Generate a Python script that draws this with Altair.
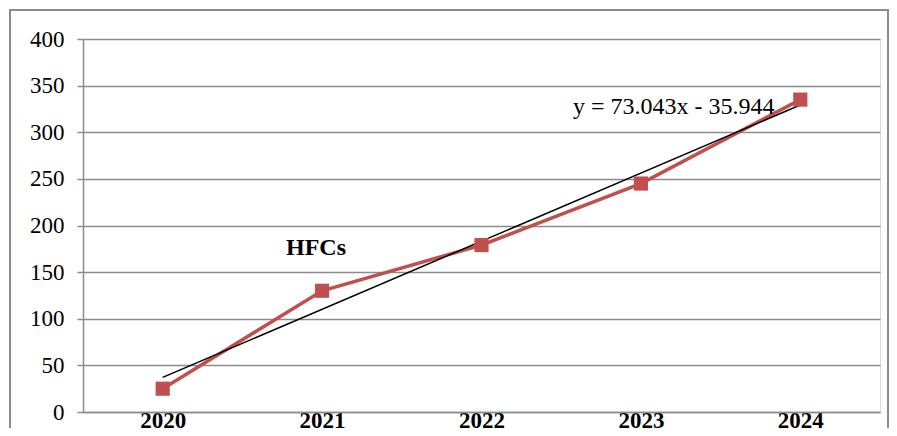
import altair as alt
import pandas as pd

years = ["2020", "2021", "2022", "2023", "2024"]
hfcs = [25, 130, 179, 245, 335]
slope = 73.043
intercept = -35.944
equation = "y = 73.043x - 35.944"
series_label = "HFCs"
y_ticks = [0, 50, 100, 150, 200, 250, 300, 350, 400]

df = pd.DataFrame({"year": years, "value": hfcs})
trend = pd.DataFrame({"year": [years[0], years[-1]],
                      "value": [slope * 1 + intercept, slope * len(years) + intercept]})

RED = "#C0504D"
GRAY = "#8c8c8c"
FONT = "Liberation Serif"

x_enc = alt.X("year:N", sort=years,
              scale=alt.Scale(type="point", padding=0.5),
              axis=alt.Axis(title=None, labelAngle=0, ticks=False, domain=True,
                            domainColor=GRAY, domainWidth=1.5,
                            labelFont=FONT, labelFontSize=23, labelFontWeight="bold",
                            labelColor="black", labelBaseline="alphabetic",
                            labelPadding=15, grid=False))
y_scale = alt.Scale(domain=[0, 400], nice=False, zero=True)
y_axis = alt.Axis(title=None, values=y_ticks, grid=True, gridColor=GRAY, gridWidth=1.5,
                  domain=True, domainColor=GRAY, domainWidth=1.5,
                  tickColor=GRAY, tickSize=6, tickWidth=1.5,
                  labelFont=FONT, labelFontSize=23, labelColor="black", labelPadding=13)

base_line = alt.Chart(df).mark_line(color=RED, strokeWidth=3.5).encode(
    x=x_enc, y=alt.Y("value:Q", scale=y_scale, axis=y_axis))
points = alt.Chart(df).mark_point(shape="square", filled=True, color=RED, size=200, opacity=1).encode(
    x=alt.X("year:N", sort=years), y=alt.Y("value:Q", scale=y_scale))
trend_line = alt.Chart(trend).mark_line(color="black", strokeWidth=1.5).encode(
    x=alt.X("year:N", sort=years), y=alt.Y("value:Q", scale=y_scale))

eq_text = alt.Chart(pd.DataFrame({"t": [equation]})).mark_text(
    font=FONT, fontSize=24, align="left", baseline="middle", color="black").encode(
    text="t:N", x=alt.value(490), y=alt.value(68))
name_text = alt.Chart(pd.DataFrame({"t": [series_label]})).mark_text(
    font=FONT, fontSize=24, fontWeight="bold", align="center", baseline="middle", color="black").encode(
    text="t:N", x=alt.value(233), y=alt.value(209))

frame = alt.Chart(pd.DataFrame({"a": [0]})).mark_rect(
    fill=None, filled=False, stroke=GRAY, strokeWidth=2, clip=False).encode(
    x=alt.value(-73), x2=alt.value(805), y=alt.value(-29), y2=alt.value(420))

chart = alt.layer(frame, base_line, trend_line, points, eq_text, name_text).properties(
    width=797, height=373,
    autosize=alt.AutoSizeParams(type="none"),
    padding={"left": 75, "top": 31, "right": 9, "bottom": 16},
).configure_view(stroke=None).configure(background="white")

chart.save("out.html", embed_options={"renderer": "svg", "actions": False})
